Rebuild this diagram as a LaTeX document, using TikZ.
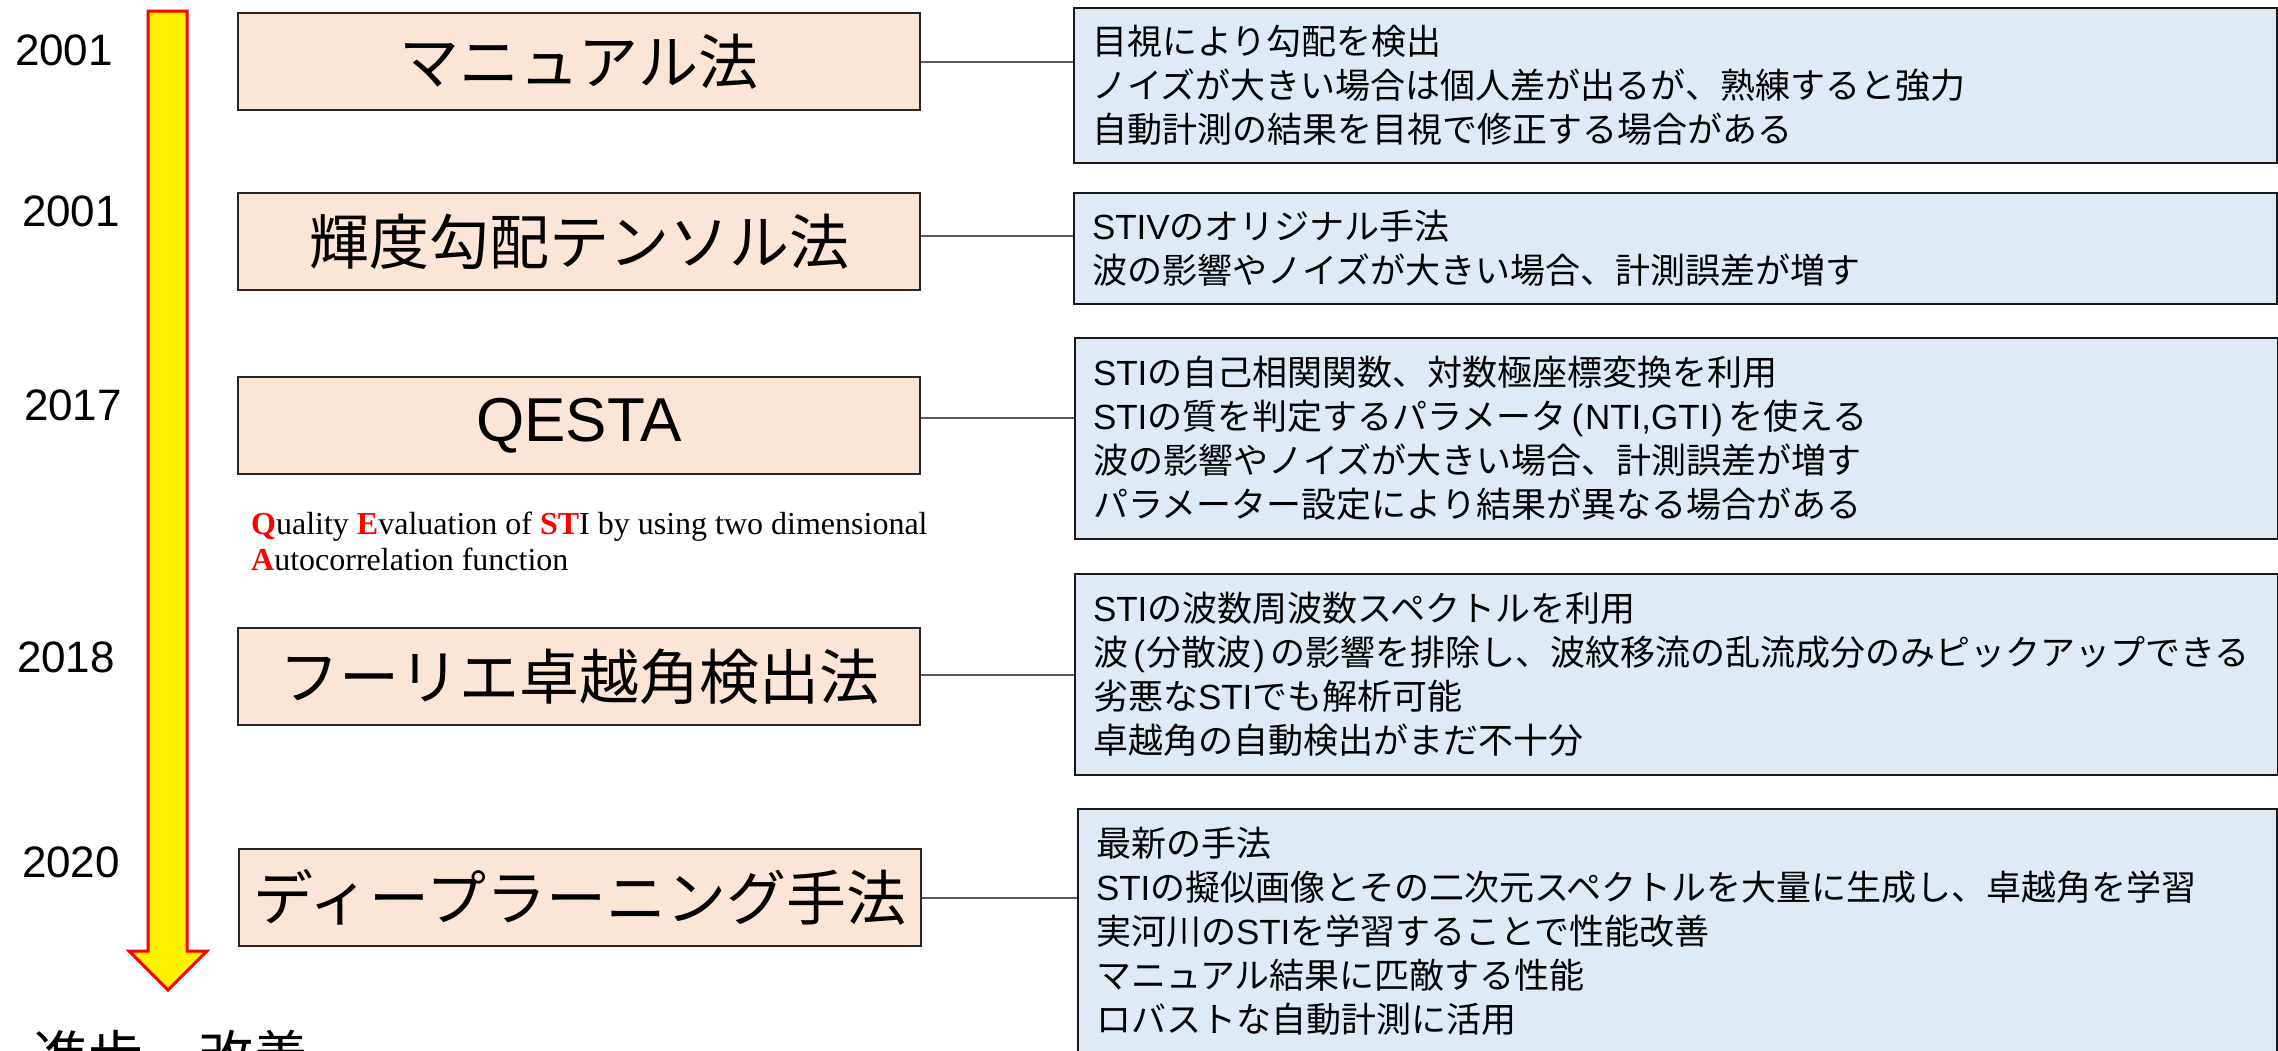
\documentclass[tikz,border=0pt]{standalone}
\usepackage{fontspec}
\setmainfont{Liberation Sans}
\newfontfamily\jp{Noto Sans CJK JP}
\newfontfamily\tms{Liberation Serif}
\newcommand{\latn}[1]{{\rmfamily #1}}
\newcommand{\lpar}{\hspace{0.15em}\latn{(}\hspace{0.05em}}
\newcommand{\rpar}{\hspace{0.05em}\latn{)}\hspace{0.15em}}
\newcommand{\qr}[1]{{\bfseries\color{qred}#1}}
\definecolor{peach}{HTML}{FBE5D6}
\definecolor{paleblue}{HTML}{DEEBF7}
\definecolor{conngray}{HTML}{595959}
\definecolor{qred}{HTML}{FF0000}
\tikzset{
  methodbox/.style={draw=black!85, line width=2pt, fill=peach, anchor=north west,
    minimum width=682pt, minimum height=97pt, inner sep=0pt,
    font=\jp\fontsize{60}{66}\selectfont},
  notebox/.style={draw=black!90, line width=2pt, fill=paleblue, anchor=north west,
    minimum width=1203pt, text width=1167pt, inner xsep=18pt, inner ysep=0pt,
    align=left, font=\jp\fontsize{35}{44}\selectfont},
  yearlabel/.style={font=\fontsize{44}{50}\selectfont, inner sep=0pt},
  conn/.style={draw=conngray, line width=2pt},
  timearrow/.style={draw=red, line width=3pt, fill=yellow, line join=miter},
  qcaption/.style={font=\tms\fontsize{32}{36}\selectfont, anchor=base west, inner sep=0pt},
}
\begin{document}
\begin{tikzpicture}[x=1pt, y=-1pt]
\useasboundingbox (0,0) rectangle (2278,1050);
\clip (0,0) rectangle (2278,1050);
\fill[white] (0,0) rectangle (2278,1050);

% timeline arrow
\draw[timearrow] (148,11) -- (187,11) -- (187,951) -- (207,951) -- (168,990)
  -- (129,951) -- (148,951) -- cycle;

% years
\node[yearlabel] (y1) at (64,50) {2001};
\node[yearlabel] (y2) at (71,211) {2001};
\node[yearlabel] (y3) at (73,405) {2017};
\node[yearlabel] (y4) at (66,657) {2018};
\node[yearlabel] (y5) at (71,862) {2020};

% method boxes
\node[methodbox] (m1) at (237,12) {マニュアル法};
\node[methodbox] (m2) at (237,192) {輝度勾配テンソル法};
\node[methodbox, font=\fontsize{62}{68}\selectfont] (m3) at (237,376) {\raisebox{-3pt}{QESTA}};
\node[methodbox] (m4) at (237,627) {フーリエ卓越角検出法};
\node[methodbox] (m5) at (238,848) {ディープラーニング手法};

% QESTA caption
\node[qcaption] (q1) at (251,534) {\qr{Q}uality \qr{E}valuation of \qr{ST}I by using two dimensional};
\node[qcaption] (q2) at (251,570) {\qr{A}utocorrelation function};

% note boxes
\node[notebox, minimum height=155pt] (n1) at (1073,7) {%
目視により勾配を検出\\
ノイズが大きい場合は個人差が出るが、熟練すると強力\\
自動計測の結果を目視で修正する場合がある};
\node[notebox, minimum height=111pt] (n2) at (1073,192) {%
\latn{STIV}のオリジナル手法\\
波の影響やノイズが大きい場合、計測誤差が増す};
\node[notebox, minimum height=201pt] (n3) at (1074,337) {%
\latn{STI}の自己相関関数、対数極座標変換を利用\\
\latn{STI}の質を判定するパラメータ\lpar\latn{NTI,GTI}\rpar を使える\\
波の影響やノイズが大きい場合、計測誤差が増す\\
パラメーター設定により結果が異なる場合がある};
\node[notebox, minimum height=201pt] (n4) at (1074,573) {%
\latn{STI}の波数周波数スペクトルを利用\\
波\lpar 分散波\rpar の影響を排除し、波紋移流の乱流成分のみピックアップできる\\
劣悪な\latn{STI}でも解析可能\\
卓越角の自動検出がまだ不十分};
\node[notebox, minimum height=244pt, minimum width=1199pt, text width=1163pt] (n5) at (1077,808) {%
最新の手法\\
\latn{STI}の擬似画像とその二次元スペクトルを大量に生成し、卓越角を学習\\
実河川の\latn{STI}を学習することで性能改善\\
マニュアル結果に匹敵する性能\\
ロバストな自動計測に活用};

% connectors
\coordinate (c1) at (m1.east);
\coordinate (c2) at ([yshift=6pt]m2.east);
\coordinate (c3) at ([yshift=8pt]m3.east);
\coordinate (c4) at ([yshift=2pt]m4.east);
\coordinate (c5) at (m5.east);
\draw[conn] (c1) -- (c1 -| n1.west);
\draw[conn] (c2) -- (c2 -| n2.west);
\draw[conn] (c3) -- (c3 -| n3.west);
\draw[conn] (c4) -- (c4 -| n4.west);
\draw[conn] (c5) -- (c5 -| n5.west);

% bottom label
\node[font=\jp\fontsize{55}{60}\selectfont, anchor=base west, inner sep=0pt] (prog) at (33,1076) {進歩、改善};
\end{tikzpicture}
\end{document}
